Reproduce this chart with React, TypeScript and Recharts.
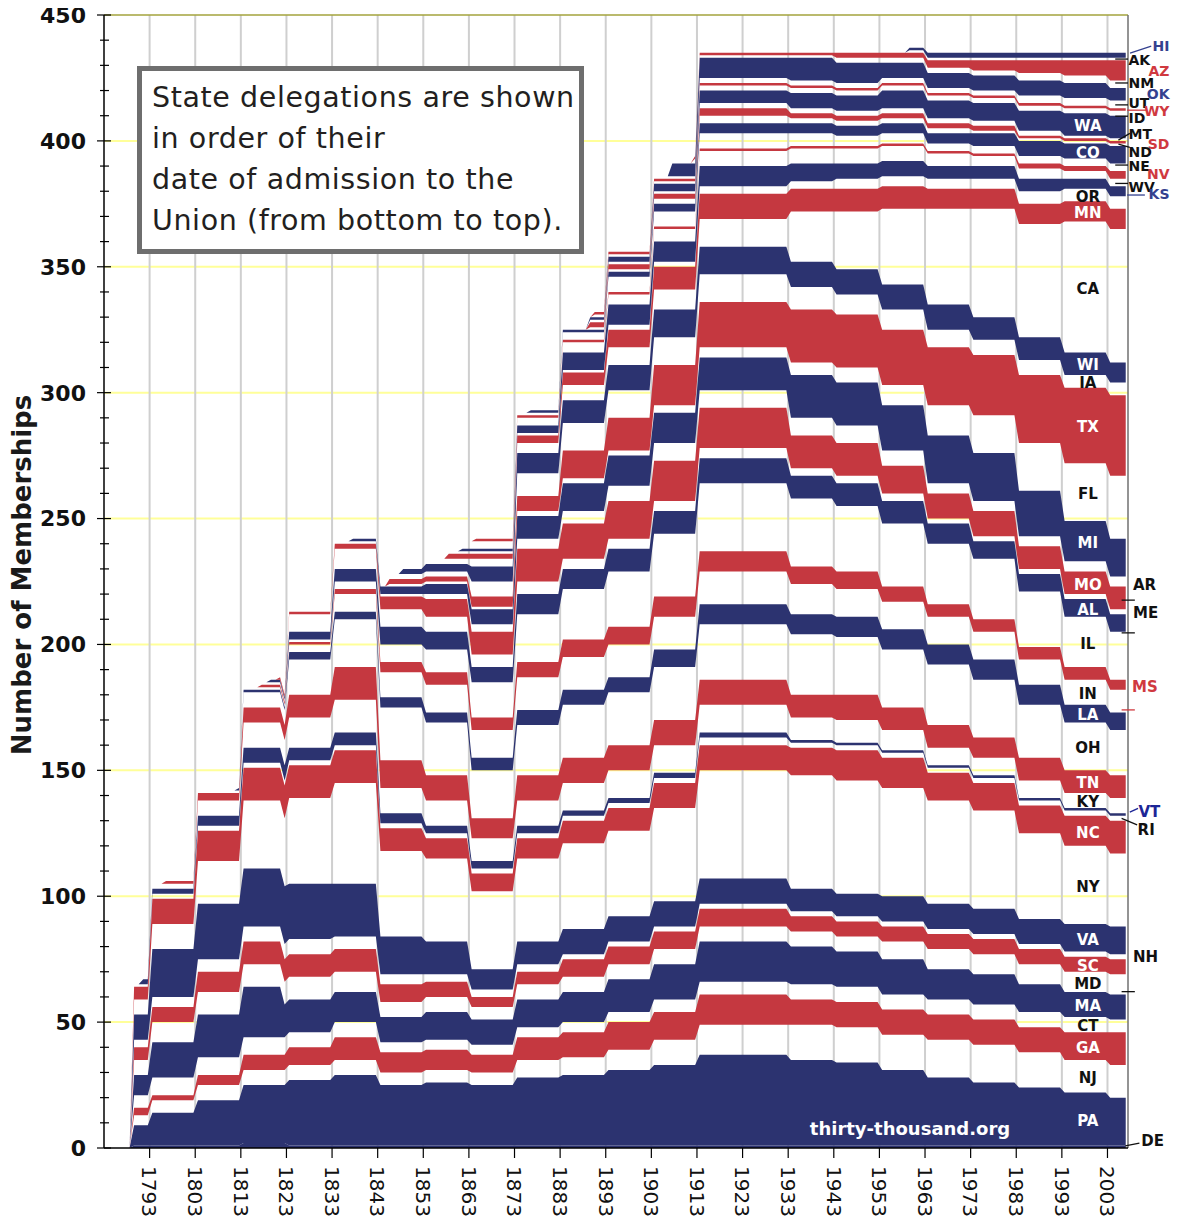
import React from 'react';
import { AreaChart, Area, XAxis, YAxis, CartesianGrid, ReferenceLine, ReferenceDot } from 'recharts';

const FONT = '"DejaVu Sans", Verdana, sans-serif';
const NAVY = '#2c3370';
const RED = '#c53840';
const INK = '#111111';
const LABEL_NAVY = '#34418f';
const LABEL_RED = '#d0393f';
const LABEL_BLUE = '#1c2596';

// states in order of admission, bottom to top
const STATES = [
  'DE', 'PA', 'NJ', 'GA', 'CT', 'MA', 'MD', 'SC', 'NH', 'VA', 'NY', 'NC', 'RI', 'VT', 'KY', 'TN', 'OH',
  'LA', 'IN', 'MS', 'IL', 'AL', 'ME', 'MO', 'AR', 'MI', 'FL', 'TX', 'IA', 'WI', 'CA', 'MN', 'OR', 'KS',
  'WV', 'NV', 'NE', 'CO', 'ND', 'SD', 'MT', 'WA', 'ID', 'WY', 'UT', 'OK', 'NM', 'AZ', 'AK', 'HI',
];

// year each apportionment took effect
const CENSUS_YEARS = [1789, 1793, 1803, 1813, 1823, 1833, 1843, 1853, 1863, 1873, 1883, 1893, 1903, 1913, 1933, 1943, 1953, 1963, 1973, 1983, 1993, 2003];

const DE = [1, 1, 1, 2, 1, 1, 1, 1, 1, 1, 1, 1, 1, 1, 1, 1, 1, 1, 1, 1, 1, 1];
const PA = [8, 13, 18, 23, 26, 28, 24, 25, 24, 27, 28, 30, 32, 36, 34, 33, 30, 27, 25, 23, 21, 19];
const NJ = [4, 5, 6, 6, 6, 6, 5, 5, 5, 7, 7, 8, 10, 12, 14, 14, 14, 15, 15, 14, 13, 13];
const GA = [3, 2, 4, 6, 7, 9, 8, 8, 7, 9, 10, 11, 11, 12, 10, 10, 10, 10, 10, 10, 11, 13];
const CT = [5, 7, 7, 7, 6, 6, 4, 4, 4, 4, 4, 4, 5, 5, 6, 6, 6, 6, 6, 6, 6, 5];
const MA = [8, 14, 17, 20, 13, 12, 10, 11, 10, 11, 12, 13, 14, 16, 15, 14, 14, 12, 12, 11, 10, 10];
const MD = [6, 8, 9, 9, 9, 8, 6, 6, 5, 6, 6, 6, 6, 6, 6, 6, 7, 8, 8, 8, 8, 8];
const SC = [5, 6, 8, 9, 9, 9, 7, 6, 4, 5, 7, 7, 7, 7, 6, 6, 6, 6, 6, 6, 6, 6];
const NH = [3, 4, 5, 6, 6, 5, 4, 3, 3, 3, 2, 2, 2, 2, 2, 2, 2, 2, 2, 2, 2, 2];
const VA = [10, 19, 22, 23, 22, 21, 15, 13, 8, 9, 10, 10, 10, 10, 9, 9, 10, 10, 10, 10, 11, 11];
const NY = [6, 10, 17, 27, 34, 40, 34, 33, 31, 33, 34, 34, 37, 43, 45, 45, 43, 41, 39, 34, 31, 29];
const NC = [5, 10, 12, 13, 13, 13, 9, 8, 7, 8, 9, 9, 10, 10, 11, 12, 12, 11, 11, 11, 12, 13];
const RI = [1, 2, 2, 2, 2, 2, 2, 2, 2, 2, 2, 2, 2, 3, 2, 2, 2, 2, 2, 2, 2, 2];
const VT = [0, 2, 4, 6, 5, 5, 4, 3, 3, 3, 2, 2, 2, 2, 1, 1, 1, 1, 1, 1, 1, 1];
const KY = [0, 2, 6, 10, 12, 13, 10, 10, 9, 10, 11, 11, 11, 11, 9, 9, 8, 7, 7, 7, 6, 6];
const TN = [0, 0, 3, 6, 9, 13, 11, 10, 8, 10, 10, 10, 10, 10, 9, 10, 9, 9, 8, 9, 9, 9];
const OH = [0, 0, 1, 6, 14, 19, 21, 21, 19, 20, 21, 21, 21, 22, 24, 23, 23, 24, 23, 21, 19, 18];
const LA = [0, 0, 0, 1, 3, 3, 4, 4, 5, 6, 6, 6, 7, 8, 8, 8, 8, 8, 8, 8, 7, 7];
const IN = [0, 0, 0, 0, 3, 7, 10, 11, 11, 13, 13, 13, 13, 13, 12, 11, 11, 11, 11, 10, 10, 9];
const MS = [0, 0, 0, 0, 1, 2, 4, 5, 5, 6, 7, 7, 8, 8, 7, 7, 6, 5, 5, 5, 5, 4];
const IL = [0, 0, 0, 0, 1, 3, 7, 9, 14, 19, 20, 22, 25, 27, 27, 26, 25, 24, 24, 22, 20, 19];
const AL = [0, 0, 0, 0, 3, 5, 7, 7, 6, 8, 8, 9, 9, 10, 9, 9, 9, 8, 7, 7, 7, 7];
const ME = [0, 0, 0, 0, 7, 8, 7, 6, 5, 5, 4, 4, 4, 4, 3, 3, 3, 2, 2, 2, 2, 2];
const MO = [0, 0, 0, 0, 1, 2, 5, 7, 9, 13, 14, 15, 16, 16, 13, 13, 11, 10, 10, 9, 9, 9];
const AR = [0, 0, 0, 0, 0, 0, 1, 2, 3, 4, 5, 6, 7, 7, 7, 7, 6, 4, 4, 4, 4, 4];
const MI = [0, 0, 0, 0, 0, 0, 3, 4, 6, 9, 11, 12, 12, 13, 17, 17, 18, 19, 19, 18, 16, 15];
const FL = [0, 0, 0, 0, 0, 0, 0, 1, 1, 2, 2, 2, 3, 4, 5, 6, 8, 12, 15, 19, 23, 25];
const TX = [0, 0, 0, 0, 0, 0, 0, 2, 4, 6, 11, 13, 16, 18, 21, 21, 22, 23, 24, 27, 30, 32];
const IA = [0, 0, 0, 0, 0, 0, 0, 2, 6, 9, 11, 11, 11, 11, 9, 8, 8, 7, 6, 6, 5, 5];
const WI = [0, 0, 0, 0, 0, 0, 0, 3, 6, 8, 9, 10, 11, 11, 10, 10, 10, 10, 9, 9, 9, 8];
const CA = [0, 0, 0, 0, 0, 0, 0, 2, 3, 4, 6, 7, 8, 11, 20, 23, 30, 38, 43, 45, 52, 53];
const MN = [0, 0, 0, 0, 0, 0, 0, 0, 2, 3, 5, 7, 9, 10, 9, 9, 9, 8, 8, 8, 8, 8];
const OR = [0, 0, 0, 0, 0, 0, 0, 0, 1, 1, 1, 2, 2, 3, 3, 4, 4, 4, 4, 5, 5, 5];
const KS = [0, 0, 0, 0, 0, 0, 0, 0, 1, 3, 7, 8, 8, 8, 7, 6, 6, 5, 5, 5, 4, 4];
const WV = [0, 0, 0, 0, 0, 0, 0, 0, 3, 3, 4, 4, 5, 6, 6, 6, 6, 5, 4, 4, 3, 3];
const NV = [0, 0, 0, 0, 0, 0, 0, 0, 0, 1, 1, 1, 1, 1, 1, 1, 1, 1, 1, 2, 2, 3];
const NE = [0, 0, 0, 0, 0, 0, 0, 0, 0, 1, 3, 6, 6, 6, 5, 4, 4, 3, 3, 3, 3, 3];
const CO = [0, 0, 0, 0, 0, 0, 0, 0, 0, 0, 1, 2, 3, 4, 4, 4, 4, 4, 5, 6, 6, 7];
const ND = [0, 0, 0, 0, 0, 0, 0, 0, 0, 0, 0, 1, 2, 3, 2, 2, 2, 2, 1, 1, 1, 1];
const SD = [0, 0, 0, 0, 0, 0, 0, 0, 0, 0, 0, 2, 2, 3, 2, 2, 2, 2, 2, 1, 1, 1];
const MT = [0, 0, 0, 0, 0, 0, 0, 0, 0, 0, 0, 1, 1, 2, 2, 2, 2, 2, 2, 2, 1, 1];
const WA = [0, 0, 0, 0, 0, 0, 0, 0, 0, 0, 0, 2, 3, 5, 6, 6, 7, 7, 7, 8, 9, 9];
const ID = [0, 0, 0, 0, 0, 0, 0, 0, 0, 0, 0, 1, 1, 2, 2, 2, 2, 2, 2, 2, 2, 2];
const WY = [0, 0, 0, 0, 0, 0, 0, 0, 0, 0, 0, 1, 1, 1, 1, 1, 1, 1, 1, 1, 1, 1];
const UT = [0, 0, 0, 0, 0, 0, 0, 0, 0, 0, 0, 0, 1, 2, 2, 2, 2, 2, 2, 3, 3, 3];
const OK = [0, 0, 0, 0, 0, 0, 0, 0, 0, 0, 0, 0, 0, 8, 9, 8, 6, 6, 6, 6, 6, 5];
const NM = [0, 0, 0, 0, 0, 0, 0, 0, 0, 0, 0, 0, 0, 1, 1, 2, 2, 2, 2, 3, 3, 3];
const AZ = [0, 0, 0, 0, 0, 0, 0, 0, 0, 0, 0, 0, 0, 1, 1, 2, 2, 3, 4, 5, 6, 8];
const AK = [0, 0, 0, 0, 0, 0, 0, 0, 0, 0, 0, 0, 0, 0, 0, 0, 0, 1, 1, 1, 1, 1];
const HI = [0, 0, 0, 0, 0, 0, 0, 0, 0, 0, 0, 0, 0, 0, 0, 0, 0, 2, 2, 2, 2, 2];

const SEATS: Record<string, number[]> = {
  DE, PA, NJ, GA, CT, MA, MD, SC, NH, VA, NY, NC, RI, VT, KY, TN, OH, LA, IN, MS, IL, AL, ME, MO, AR,
  MI, FL, TX, IA, WI, CA, MN, OR, KS, WV, NV, NE, CO, ND, SD, MT, WA, ID, WY, UT, OK, NM, AZ, AK, HI,
};

// admissions and other changes between apportionments: [state, year, seats]
const MID_DECADE_CHANGES: [string, number, number][] = [
  ['VT', 1791, 2], ['KY', 1792, 2], ['TN', 1796, 1], ['LA', 1812, 1], ['IN', 1816, 1], ['MS', 1817, 1],
  ['IL', 1818, 1], ['AL', 1819, 1], ['MO', 1821, 1], ['MA', 1822, 13], ['AR', 1836, 1], ['MI', 1837, 1],
  ['FL', 1845, 1], ['TX', 1845, 2], ['IA', 1846, 2], ['WI', 1848, 2], ['CA', 1850, 2], ['MN', 1858, 2],
  ['OR', 1859, 1], ['KS', 1861, 1], ['NV', 1864, 1], ['NE', 1867, 1], ['CO', 1876, 1], ['ND', 1889, 1],
  ['SD', 1889, 2], ['MT', 1889, 1], ['WA', 1889, 1], ['ID', 1890, 1], ['WY', 1890, 1], ['UT', 1896, 1],
  ['OK', 1907, 5], ['NM', 1912, 2], ['AZ', 1912, 1], ['AK', 1959, 1], ['HI', 1959, 1],
];

const LAST_YEAR = 2007;
const RAMP_BEFORE = 0.4;
const RAMP_AFTER = 0.6;

const X_TICKS = [1793, 1803, 1813, 1823, 1833, 1843, 1853, 1863, 1873, 1883, 1893, 1903, 1913, 1923, 1933, 1943, 1953, 1963, 1973, 1983, 1993, 2003];
const Y_TICKS = Array.from({ length: 46 }, (_, i) => i * 10);
const GRID_Y = [50, 100, 150, 200, 250, 300, 350, 400];

const INSIDE_LABELS = ['PA', 'NJ', 'GA', 'CT', 'MA', 'MD', 'SC', 'VA', 'NY', 'NC', 'KY', 'TN', 'OH', 'LA', 'IN', 'IL', 'AL', 'MO', 'MI', 'FL', 'TX', 'IA', 'WI', 'CA', 'MN', 'OR', 'CO', 'WA'];
const LABEL_PERIOD = 1993;
const LABEL_X = 1998.7;
const RIGHT_COL = 2016.6;

// [state, x (year), y (seats), colour, anchor, font size]
const OUTSIDE_LABELS: [string, number, number, string, 'start' | 'end', number][] = [
  ['HI', RIGHT_COL, 438.0, LABEL_NAVY, 'end', 14], ['AK', 2007.6, 432.4, INK, 'start', 14],
  ['AZ', RIGHT_COL, 428.1, LABEL_RED, 'end', 14], ['NM', 2007.6, 423.4, INK, 'start', 14],
  ['OK', RIGHT_COL, 418.9, LABEL_NAVY, 'end', 14], ['UT', 2007.6, 415.3, INK, 'start', 14],
  ['WY', RIGHT_COL, 412.0, LABEL_RED, 'end', 14], ['ID', 2007.6, 409.3, INK, 'start', 14],
  ['MT', 2007.6, 403.0, INK, 'start', 14], ['SD', RIGHT_COL, 399.0, LABEL_RED, 'end', 14],
  ['ND', 2007.6, 395.9, INK, 'start', 14], ['NE', 2007.6, 390.1, INK, 'start', 14],
  ['NV', RIGHT_COL, 387.1, LABEL_RED, 'end', 14], ['WV', 2007.6, 381.8, INK, 'start', 14],
  ['KS', RIGHT_COL, 379.1, LABEL_NAVY, 'end', 14], ['AR', 2008.6, 224.0, INK, 'start', 15],
  ['ME', 2008.6, 213.0, INK, 'start', 15], ['MS', 2008.4, 183.5, LABEL_RED, 'start', 15],
  ['VT', 2009.8, 134.0, LABEL_BLUE, 'start', 15], ['RI', 2009.6, 126.6, INK, 'start', 15],
  ['NH', 2008.6, 76.3, INK, 'start', 15], ['DE', 2010.4, 3.2, INK, 'start', 15],
];

// leader lines: [x1, y1, x2, y2, colour]
const LEADERS: [number, number, number, number, string][] = [
  [2007.95, 434.9, 2012.6, 437.6, LABEL_NAVY], [2004.7, 432.5, 2007.5, 432.5, INK],
  [2004.7, 423.0, 2007.5, 423.0, INK], [2004.7, 414.3, 2007.5, 414.3, INK],
  [2007.3, 412.2, 2011.6, 412.2, LABEL_RED], [2004.7, 409.8, 2007.5, 409.8, INK],
  [2005.4, 400.3, 2007.9, 403.0, INK], [2005.4, 398.7, 2007.9, 397.4, INK],
  [2004.7, 390.4, 2007.5, 390.4, INK], [2004.7, 383.1, 2007.5, 383.1, INK],
  [2007.3, 378.5, 2011.2, 378.5, LABEL_NAVY], [2006.1, 217.6, 2009.0, 217.6, INK],
  [2006.1, 204.6, 2009.0, 204.6, INK], [2006.1, 174.0, 2009.0, 174.0, LABEL_RED],
  [2007.9, 133.4, 2009.7, 134.9, LABEL_BLUE], [2006.1, 130.9, 2009.5, 128.3, INK],
  [2006.1, 62.1, 2009.0, 62.1, INK], [2006.9, 0.8, 2010.0, 1.9, INK],
];

const NOTE_LINES = ['State delegations are shown', 'in order of their', 'date of admission to the', 'Union (from bottom to top).'];

const bandColor = (i: number) => (i === 0 ? NAVY : ['white', NAVY, 'white', RED][i % 4]);

// step table: each change ramps in over about a year
type Row = Record<string, number>;
function buildRows(): Row[] {
  const changes: { year: number; state: string; seats: number }[] = [];
  CENSUS_YEARS.forEach((year, i) => STATES.forEach((state) => changes.push({ year, state, seats: SEATS[state][i] })));
  MID_DECADE_CHANGES.forEach(([state, year, seats]) => changes.push({ year, state, seats }));
  const years = Array.from(new Set(changes.map((c) => c.year))).sort((a, b) => a - b);
  const current: Row = {};
  STATES.forEach((s) => (current[s] = 0));
  const rows: Row[] = [];
  for (const y of years) {
    rows.push({ year: y - RAMP_BEFORE, ...current });
    changes.filter((c) => c.year === y).forEach((c) => (current[c.state] = c.seats));
    rows.push({ year: y + RAMP_AFTER, ...current });
  }
  rows.push({ year: LAST_YEAR, ...current });
  return rows;
}

const rows = buildRows();

const labelIdx = CENSUS_YEARS.indexOf(LABEL_PERIOD);
const insideLabels = INSIDE_LABELS.map((code) => {
  const i = STATES.indexOf(code);
  let below = 0;
  for (let k = 0; k < i; k++) below += SEATS[STATES[k]][labelIdx];
  return { code, y: below + SEATS[code][labelIdx] / 2, fill: bandColor(i) === 'white' ? INK : '#ffffff' };
});

const YTick = (props: any) => {
  const { x, y, payload } = props;
  const v = payload.value as number;
  const major = v % 50 === 0;
  return (
    <g>
      <line x1={x - (major ? 7 : 4)} x2={x + (major ? 7 : 5)} y1={y} y2={y} stroke="#000" strokeWidth={1.2} />
      {major && (
        <text x={x - 18} y={y} dy="0.36em" textAnchor="end" fontFamily={FONT} fontWeight="bold" fontSize={22} fill={INK}>
          {v}
        </text>
      )}
    </g>
  );
};

const XTick = (props: any) => {
  const { x, y, payload } = props;
  return (
    <text transform={`translate(${x},${y}) rotate(90)`} x={8} y={0} dy="0.36em" textAnchor="start" fontFamily={FONT} fontSize={20} fill={INK}>
      {payload.value}
    </text>
  );
};

export default function App() {
  return (
    <div style={{ position: 'relative', width: 1171, height: 1208, fontFamily: FONT }}>
      <style>{'html { overflow: hidden; } .recharts-wrapper, .recharts-surface { overflow: visible !important; }'}</style>
      <AreaChart width={1171} height={1208} data={rows} margin={{ top: 7, right: 51, bottom: 0, left: 0 }}>
        <CartesianGrid vertical={false} horizontalValues={GRID_Y} stroke="#ffff99" strokeWidth={2} />
        <CartesianGrid horizontal={false} verticalValues={X_TICKS} stroke="#cfcfcf" strokeWidth={2} />
        <XAxis
          dataKey="year"
          type="number"
          domain={[1783, 2007.5]}
          ticks={X_TICKS}
          interval={0}
          height={68}
          tickSize={10}
          tickMargin={0}
          tick={XTick}
          axisLine={{ stroke: '#000', strokeWidth: 1.5 }}
          tickLine={{ stroke: '#000', strokeWidth: 1.2 }}
          allowDataOverflow
        />
        <YAxis
          type="number"
          domain={[0, 450]}
          ticks={Y_TICKS}
          interval={0}
          width={96}
          tickSize={0}
          tickMargin={0}
          tick={YTick}
          tickLine={false}
          axisLine={{ stroke: '#000', strokeWidth: 1.5 }}
          allowDataOverflow
        />
        {STATES.map((s, i) => {
          const c = bandColor(i);
          return (
            <Area
              key={s}
              dataKey={s}
              stackId="house"
              type="linear"
              fill={c === 'white' ? '#ffffff' : c}
              fillOpacity={c === 'white' ? 0 : 1}
              stroke="none"
              isAnimationActive={false}
              dot={false}
              activeDot={false}
            />
          );
        })}
        <ReferenceLine y={450} stroke="#a3a33c" strokeWidth={1.5} ifOverflow="visible" />
        <ReferenceLine x={2007.5} stroke="#707070" strokeWidth={1.5} ifOverflow="visible" />
        {LEADERS.map(([x1, y1, x2, y2, color], i) => (
          <ReferenceLine
            key={`lead${i}`}
            segment={[{ x: x1, y: y1 }, { x: x2, y: y2 }]}
            stroke={color}
            strokeWidth={1.3}
            ifOverflow="visible"
          />
        ))}
        {insideLabels.map((l) => (
          <ReferenceDot
            key={`in${l.code}`}
            x={LABEL_X}
            y={l.y}
            r={1}
            ifOverflow="visible"
            shape={(p: any) => (
              <text x={p.cx} y={p.cy} dy="0.45em" textAnchor="middle" fontFamily={FONT} fontWeight="bold" fontSize={15} fill={l.fill}>
                {l.code}
              </text>
            )}
          />
        ))}
        {OUTSIDE_LABELS.map(([code, x, y, color, anchor, size]) => (
          <ReferenceDot
            key={`out${code}`}
            x={x}
            y={y}
            r={1}
            ifOverflow="visible"
            shape={(p: any) => (
              <text x={p.cx} y={p.cy} dy="0.4em" textAnchor={anchor} fontFamily={FONT} fontWeight="bold" fontSize={size} fill={color}>
                {code}
              </text>
            )}
          />
        ))}
      </AreaChart>

      <svg
        width={1171}
        height={1208}
        style={{ position: 'absolute', left: 0, top: 0, overflow: 'visible', pointerEvents: 'none' }}
      >
        <text x={607} y={-1} textAnchor="middle" fontFamily={FONT} fontStyle="italic" fontSize={31} fill="#2e3192">
          1789 to 2008
        </text>
        <text
          transform="translate(23,567) rotate(-90)"
          textAnchor="middle"
          fontFamily={FONT}
          fontWeight="bold"
          fontSize={26}
          fill="#1a1a1a"
        >
          Number of Memberships
        </text>
        <text x={902} y={1127} textAnchor="middle" fontFamily={FONT} fontWeight="bold" fontSize={18} fill="#ffffff">
          thirty-thousand.org
        </text>
      </svg>

      <div
        style={{
          position: 'absolute',
          left: 129,
          top: 58,
          width: 447,
          height: 188,
          boxSizing: 'border-box',
          border: '5px solid #6e6e6e',
          background: '#ffffff',
          padding: '6px 0 0 10px',
          fontFamily: FONT,
          fontSize: 28.5,
          letterSpacing: '0.6px',
          lineHeight: '41px',
          color: '#231f20',
          whiteSpace: 'nowrap',
        }}
      >
        {NOTE_LINES.map((line) => (
          <div key={line}>{line}</div>
        ))}
      </div>
    </div>
  );
}
